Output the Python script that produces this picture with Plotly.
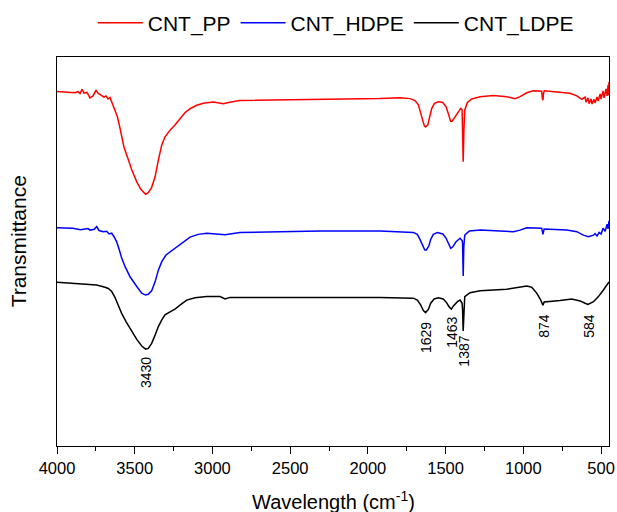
import plotly.graph_objects as go

# ---- data (wavenumber cm^-1, transmittance a.u.) ----
pp_wn = [4000, 3897, 3884, 3865, 3852, 3839, 3826, 3807, 3788, 3768, 3749, 3736, 3717, 3698,
         3685, 3672, 3659, 3648, 3638, 3627, 3612, 3599, 3584, 3569, 3548, 3519, 3487, 3461,
         3430, 3413, 3391, 3369, 3348, 3326, 3305, 3273, 3241, 3209, 3176, 3144, 3101, 3059,
         2994, 2930, 2898, 2823, 2608, 2308, 1922, 1793, 1729, 1697, 1675, 1660, 1647, 1637,
         1629, 1615, 1605, 1589, 1572, 1547, 1518, 1497, 1483, 1468, 1458, 1439, 1418, 1403,
         1394, 1391, 1387, 1383, 1377, 1360, 1332, 1278, 1193, 1107, 1053, 1021, 978, 936,
         882, 878, 874, 870, 865, 785, 700, 656, 624, 603, 597, 584, 577, 564, 558, 545, 539,
         526, 519, 506, 500, 487, 481, 468, 461, 455, 452, 449]
pp_t = [91.1, 90.9, 90.8, 91.1, 90.6, 91.7, 90.7, 90.9, 89.5, 90.0, 91.5, 90.7, 90.1, 89.7,
        90.0, 89.2, 89.6, 88.5, 87.7, 86.4, 84.7, 82.5, 79.5, 76.8, 74.4, 71.0, 67.9, 66.0,
        64.7, 65.1, 66.5, 69.2, 73.5, 77.4, 79.5, 81.2, 82.5, 84.2, 85.7, 86.7, 87.6, 88.1,
        88.4, 88.0, 88.3, 88.8, 88.9, 89.0, 89.3, 89.5, 89.3, 88.8, 87.7, 85.5, 83.4, 82.3,
        82.0, 82.5, 84.2, 86.8, 88.1, 88.5, 88.3, 87.2, 85.5, 83.5, 83.5, 84.7, 85.9, 86.8,
        86.4, 82.1, 73.1, 80.4, 86.4, 88.3, 89.2, 89.8, 90.1, 89.8, 89.3, 89.8, 90.8, 91.3,
        91.2, 89.4, 88.9, 90.7, 91.3, 91.0, 90.7, 90.0, 89.1, 89.7, 88.4, 89.5, 88.0, 89.2,
        87.9, 89.1, 88.2, 89.7, 88.7, 90.5, 89.2, 91.3, 89.5, 91.8, 90.0, 92.8, 90.2, 93.6]

hdpe_wn = [4000, 3897, 3850, 3800, 3788, 3760, 3745, 3730, 3702, 3680, 3665, 3648, 3633, 3616,
           3599, 3584, 3562, 3530, 3487, 3455, 3430, 3413, 3391, 3369, 3348, 3326, 3299, 3262,
           3230, 3187, 3144, 3091, 3037, 2919, 2823, 2308, 1922, 1708, 1682, 1665, 1647, 1634,
           1624, 1608, 1596, 1579, 1553, 1518, 1497, 1480, 1467, 1454, 1433, 1407, 1394, 1391,
           1387, 1383, 1377, 1347, 1278, 1064, 1021, 978, 882, 874, 866, 721, 656, 614, 582,
           549, 539, 526, 513, 500, 487, 474, 461, 455, 449]
hdpe_t = [56.1, 56.0, 55.6, 55.9, 55.5, 55.7, 56.4, 55.4, 55.1, 55.2, 54.5, 54.7, 53.8, 52.5,
          50.4, 48.3, 46.1, 43.5, 41.0, 39.3, 38.8, 39.0, 39.9, 42.2, 45.2, 47.4, 49.1, 50.2,
          51.2, 52.5, 53.7, 54.4, 54.7, 54.3, 54.9, 55.3, 55.3, 54.9, 54.4, 53.1, 51.4, 50.4,
          50.4, 51.4, 53.1, 54.4, 54.9, 54.5, 53.4, 51.7, 50.8, 51.2, 52.5, 53.4, 52.8, 52.0,
          43.7, 51.2, 54.2, 55.3, 55.5, 55.1, 55.5, 56.1, 56.0, 54.4, 55.8, 55.5, 55.1, 54.2,
          53.8, 54.2, 54.6, 54.0, 54.9, 54.5, 56.0, 55.2, 57.0, 55.8, 57.9]

ldpe_wn = [4000, 3897, 3745, 3691, 3670, 3648, 3627, 3606, 3584, 3556, 3519, 3487, 3455, 3430,
           3413, 3391, 3369, 3348, 3326, 3305, 3273, 3241, 3209, 3166, 3112, 3037, 2951, 2919,
           2887, 2308, 1922, 1708, 1682, 1660, 1643, 1629, 1611, 1596, 1574, 1547, 1515, 1493,
           1478, 1463, 1450, 1424, 1407, 1394, 1391, 1387, 1383, 1377, 1343, 1278, 1107, 1021,
           978, 946, 914, 888, 878, 874, 866, 828, 764, 689, 635, 603, 584, 549, 517, 485, 449]
ldpe_t = [42.1, 41.8, 41.4, 40.8, 40.5, 39.7, 38.2, 36.2, 34.1, 32.0, 29.4, 27.4, 25.7, 24.9,
          25.1, 26.4, 28.5, 30.7, 32.4, 33.7, 34.5, 35.2, 36.2, 37.5, 38.1, 38.4, 38.4, 37.8,
          38.2, 38.2, 38.2, 38.0, 37.5, 36.2, 34.8, 34.3, 35.1, 36.7, 37.8, 38.1, 37.8, 36.8,
          35.8, 35.2, 36.0, 37.1, 37.5, 36.7, 35.0, 29.6, 35.8, 38.4, 39.4, 39.9, 40.3, 40.8,
          41.1, 40.8, 39.3, 37.5, 36.5, 36.2, 37.0, 37.1, 37.4, 37.8, 37.3, 36.7, 36.4, 37.1,
          38.4, 40.1, 42.2]

peak_labels = ["3430", "1629", "1463", "1387", "874", "584"]
peak_wn = [3430, 1629, 1463, 1387, 874, 584]
peak_label_top = [23.4, 32.4, 33.7, 28.8, 34.5, 34.5]

x_ticks = [4000, 3500, 3000, 2500, 2000, 1500, 1000, 500]

FONT = "Liberation Sans, Arial, sans-serif"

fig = go.Figure()
fig.add_trace(go.Scatter(x=pp_wn, y=pp_t, mode="lines", name="CNT_PP",
                         line=dict(color="#ff0000", width=1.5)))
fig.add_trace(go.Scatter(x=hdpe_wn, y=hdpe_t, mode="lines", name="CNT_HDPE",
                         line=dict(color="#0000ff", width=1.5)))
fig.add_trace(go.Scatter(x=ldpe_wn, y=ldpe_t, mode="lines", name="CNT_LDPE",
                         line=dict(color="#000000", width=1.5)))

annotations = []
for lab, wn, top in zip(peak_labels, peak_wn, peak_label_top):
    annotations.append(dict(x=wn, y=top, xref="x", yref="y", text=lab, showarrow=False,
                            textangle=-90, xanchor="center", yanchor="top", xshift=1,
                            font=dict(family=FONT, size=14, color="#000")))
# axis titles
annotations.append(dict(x=0.5009, y=-0.139, xref="paper", yref="paper",
                        text="Wavelength (cm<sup>-1</sup>)", showarrow=False,
                        xanchor="center", yanchor="middle",
                        font=dict(family=FONT, size=20, color="#000")))
annotations.append(dict(x=-0.0707, y=0.526, xref="paper", yref="paper",
                        text="Transmittance", showarrow=False, textangle=-90,
                        xanchor="center", yanchor="middle",
                        font=dict(family=FONT, size=21, color="#000")))

fig.update_layout(
    width=617, height=512,
    margin=dict(l=57, r=8, t=57, b=66, autoexpand=False),
    paper_bgcolor="white", plot_bgcolor="white",
    showlegend=True,
    legend=dict(orientation="h", x=0.505, xanchor="center", y=1.087, yanchor="middle",
                font=dict(family=FONT, size=21, color="#000"),
                itemwidth=45, tracegroupgap=0, bgcolor="rgba(0,0,0,0)"),
    annotations=annotations,
    font=dict(family=FONT, color="#000"),
)
fig.update_xaxes(range=[4000, 449], showgrid=False, zeroline=False, automargin=False,
                 showline=True, linecolor="#000", linewidth=1.3, mirror=True,
                 ticks="outside", ticklen=7, tickwidth=1.2, tickcolor="#000",
                 tickvals=x_ticks, ticktext=[str(v) for v in x_ticks],
                 tickfont=dict(family=FONT, size=16.5, color="#000"),
                 minor=dict(dtick=250, tick0=0, ticks="outside", ticklen=4,
                            tickwidth=1.2, tickcolor="#000", showgrid=False))
fig.update_yaxes(range=[0, 100], showgrid=False, zeroline=False, automargin=False,
                 showline=True, linecolor="#000", linewidth=1.3, mirror=True,
                 ticks="", showticklabels=False)

fig.write_html("out.html", config={"displayModeBar": False},
               post_script="document.body.style.margin='0';document.body.style.padding='0';")
